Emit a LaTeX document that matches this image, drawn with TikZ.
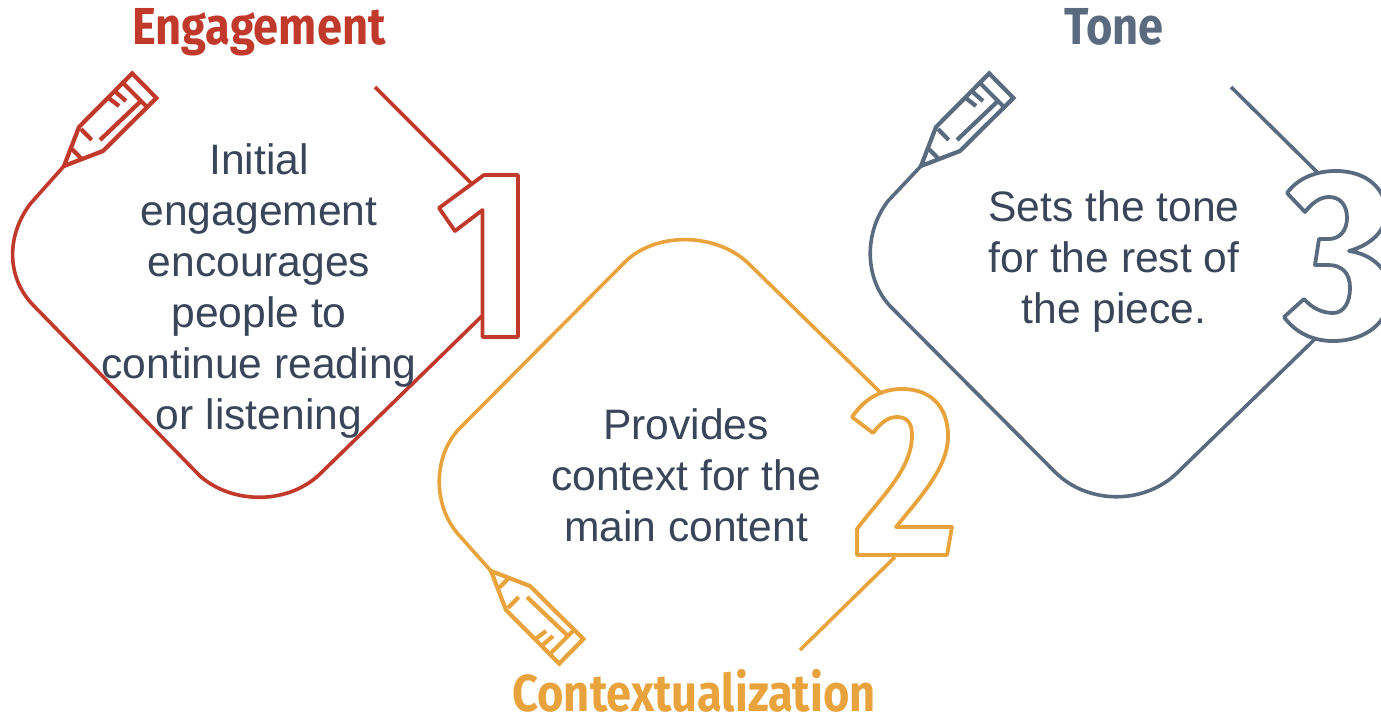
\documentclass[tikz,border=0pt]{standalone}
\usepackage{fontspec}
\setmainfont{Liberation Sans}
\newfontfamily\headfont[FakeStretch=0.87]{Fira Sans}
\definecolor{cred}{HTML}{C0392B}
\definecolor{cgold}{HTML}{E8A33D}
\definecolor{cslate}{HTML}{5A6B80}
\definecolor{ctext}{HTML}{3A4559}
\tikzset{
  body/.style={font=\fontsize{42.6}{51}\selectfont, text=ctext, align=center, inner sep=0pt},
  head/.style={font=\headfont\bfseries\fontsize{52}{52}\selectfont, inner sep=0pt, anchor=base},
  outline/.style={line width=3.6pt, line join=round, line cap=butt},
  glyph/.style={line width=3.8pt, line join=round},
  pencilline/.style={line width=4.2pt, line cap=butt},
  pencil/.pic={
    \draw[pencilline,line join=miter] (0,0) -- (15,-39) -- (68.2,-92.6) -- (92.4,-68) -- (39,-15) -- cycle;
    \draw[pencilline] (60,-82) -- (83,-59);
    \draw[pencilline] (36,-26) -- (77,-65);
    \draw[pencilline] (44,-68.5) -- (55,-60);
    \draw[pencilline] (50.5,-75) -- (62,-65);
    \draw[pencilline] (17,-37) -- (27.7,-26);
    \draw[pencilline] (8.3,-16.7) -- (17.7,-7);
  }
}
\begin{document}
\begin{tikzpicture}[x=1pt,y=-1pt]
\useasboundingbox (0,0) rectangle (1381,717);
\clip (0,0) rectangle (1381,717);
% diagram 1
\draw[outline,cred] (64,166) -- (31,203) .. controls (6,235) and (6,278) .. (34,306) -- (200,476) .. controls (233,505) and (290,505) .. (322,472) -- (482,316);
\draw[outline,cred] (375,87) -- (471,183);
\draw[glyph,cred] (439,208) -- (484,175) -- (518,175) -- (518,337) -- (482.5,337) -- (482.5,210) -- (455,231) -- cycle;
\pic[cred] at (64,166) {pencil};
\node[head,text=cred] (h1) at (259,45) {Engagement};
\node[body] (t1) at (259,291) {Initial\\engagement\\encourages\\people to\\continue reading\\or listening};
% diagram 2
\draw[outline,cgold] (491,571) -- (458,534) .. controls (433,505) and (433,458) .. (458,430) -- (625,262) .. controls (655,232) and (715,232) .. (748,263) -- (880,392);
\draw[outline,cgold] (895,557) -- (800,650);
\draw[glyph,cgold] (852,417) .. controls (865,398) and (882,389) .. (902,389) .. controls (932,389) and (948,408) .. (948,436) .. controls (948,468) and (920,497) .. (896,527) -- (952,527) -- (947,555) -- (857,555) -- (857,529) .. controls (880,498) and (912,470) .. (912,435) .. controls (912,423) and (907,417) .. (897,417) .. controls (887,417) and (880,424) .. (873,433) -- cycle;
\pic[cgold,yscale=-1] at (491,571) {pencil};
\node[head,text=cgold] (h2) at (694,711) {Contextualization};
\node[body] (t2) at (686,475) {Provides\\context for the\\main content};
% diagram 3
\draw[outline,cslate] (921,166) -- (888,201) .. controls (864,232) and (864,278) .. (890,306) -- (1055,472) .. controls (1088,505) and (1145,505) .. (1178,472) -- (1316,338);
\draw[outline,cslate] (1231,87) -- (1317,172);
\draw[glyph,cslate] (1287,193) .. controls (1298,178) and (1316,171) .. (1336,171) .. controls (1368,171) and (1386,190) .. (1386,212) .. controls (1386,232) and (1370,245) .. (1349,251) .. controls (1372,254) and (1390,270) .. (1390,293) .. controls (1390,322) and (1366,341) .. (1333,341) .. controls (1312,341) and (1295,332) .. (1284,317) -- (1304,299) .. controls (1312,308) and (1322,313) .. (1333,313) .. controls (1344,313) and (1350,302) .. (1350,288) .. controls (1350,273) and (1342,265) .. (1328,265) -- (1315,265) -- (1319,239) -- (1329,239) .. controls (1340,239) and (1347,230) .. (1347,218) .. controls (1347,205) and (1340,197) .. (1329,197) .. controls (1320,197) and (1312,203) .. (1305,212) -- cycle;
\pic[cslate] at (921,166) {pencil};
\node[head,text=cslate] (h3) at (1114,45) {Tone};
\node[body] (t3) at (1114,261) {Sets the tone\\for the rest of\\the piece.};
\end{tikzpicture}
\end{document}
